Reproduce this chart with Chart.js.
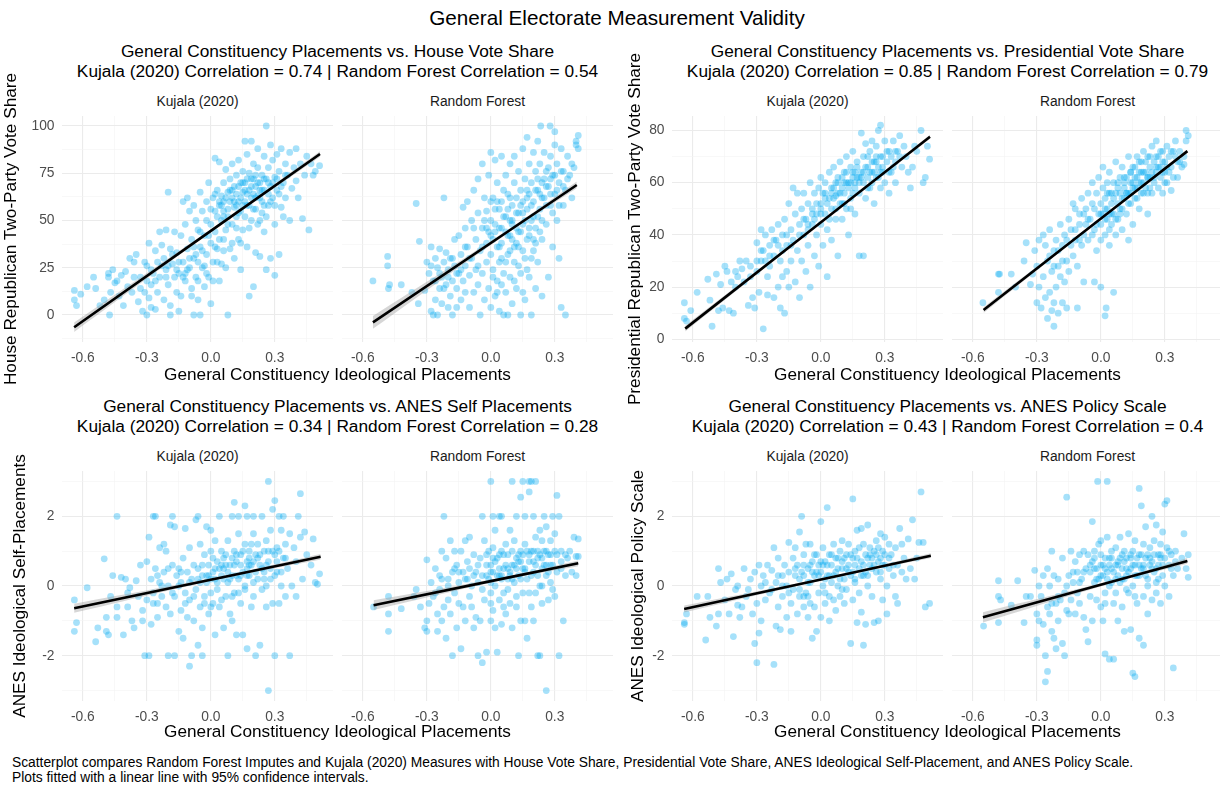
<!DOCTYPE html>
<html>
<head>
<meta charset="utf-8">
<script src="https://cdn.jsdelivr.net/npm/chart.js@4.4.1/dist/chart.umd.min.js"></script>
<style>
  html, body { margin: 0; padding: 0; background: #fff; overflow: hidden; }
  #page { position: relative; width: 1220px; height: 786px; overflow: hidden; background: #fff;
          font-family: "Liberation Sans", Arial, sans-serif; }
  #page canvas { position: absolute; }
  .txt { position: absolute; white-space: nowrap; line-height: 1; transform: translate(-50%, -50%); }
  .ytitle { transform: translate(-50%, -50%) rotate(-90deg); }
</style>
</head>
<body>
<div id="page"></div>
<script>
// ---- labels ----
const mainTitle = 'General Electorate Measurement Validity';
const facetLabels = ['Kujala (2020)', 'Random Forest'];
const groupTitles = [
  ['General Constituency Placements vs. House Vote Share', 'Kujala (2020) Correlation = 0.74 | Random Forest Correlation = 0.54'],
  ['General Constituency Placements vs. Presidential Vote Share', 'Kujala (2020) Correlation = 0.85 | Random Forest Correlation = 0.79'],
  ['General Constituency Placements vs. ANES Self Placements', 'Kujala (2020) Correlation = 0.34 | Random Forest Correlation = 0.28'],
  ['General Constituency Placements vs. ANES Policy Scale', 'Kujala (2020) Correlation = 0.43 | Random Forest Correlation = 0.4']
];
const yTitles = ['House Republican Two-Party Vote Share', 'Presidential Republican Two-Party Vote Share',
                 'ANES Ideological Self-Placements', 'ANES Ideological Policy Scale'];
const xTitle = 'General Constituency Ideological Placements';
const captionLines = [
  'Scatterplot compares Random Forest Imputes and Kujala (2020) Measures with House Vote Share, Presidential Vote Share, ANES Ideological Self-Placement, and ANES Policy Scale.',
  'Plots fitted with a linear line with 95% confidence intervals.'
];

// ---- ticks ----
const xMajor = [-0.6, -0.3, 0, 0.3];
const xTickLabels = ['-0.6', '-0.3', '0.0', '0.3'];
const xMinor = [-0.45, -0.15, 0.15, 0.45];
const houseMajor = [0, 25, 50, 75, 100];
const houseTickLabels = ['0', '25', '50', '75', '100'];
const houseMinor = [-12.5, 12.5, 37.5, 62.5, 87.5];
const presMajor = [0, 20, 40, 60, 80];
const presTickLabels = ['0', '20', '40', '60', '80'];
const presMinor = [10, 30, 50, 70];
const anesMajor = [-2, 0, 2];
const anesTickLabels = ['-2', '0', '2'];
const anesMinor = [-3, -1, 1, 3];

// ---- points [x, y] ----
const houseKujala = [[-0.64,13],[-0.64,8],[-0.63,5],[-0.61,11],[-0.58,15],[-0.55,20],[-0.54,14],[-0.52,5],[-0.5,8],[-0.48,20],[-0.48,22],[-0.475,0],[-0.47,12],[-0.46,24],[-0.45,17],[-0.44,18],[-0.43,10],[-0.42,21],[-0.41,5],[-0.4,23],[-0.39,15],[-0.38,30],[-0.37,12],[-0.36,28],[-0.35,32],[-0.34,7],[-0.33,20],[-0.32,2],[-0.31,28],[-0.31,12],[-0.3,0],[-0.3,26],[-0.29,38],[-0.29,9],[-0.28,16],[-0.28,4],[-0.27,22],[-0.26,34],[-0.26,3],[-0.25,28],[-0.25,12],[-0.24,44],[-0.24,20],[-0.23,37],[-0.22,30],[-0.22,8],[-0.21,24],[-0.21,45],[-0.2,16],[-0.2,65],[-0.19,35],[-0.19,5],[-0.18,27],[-0.19,0],[-0.17,20],[-0.17,44],[-0.16,12],[-0.16,33],[-0.15,22],[-0.15,2],[-0.14,42],[-0.14,10],[-0.13,28],[-0.13,60],[-0.12,18],[-0.12,48],[-0.11,35],[-0.11,62],[-0.1,25],[-0.08,0],[-0.1,55],[-0.09,40],[-0.09,14],[-0.08,58],[-0.08,30],[-0.07,20],[-0.07,50],[-0.06,8],[-0.06,45],[-0.05,36],[-0.05,65],[-0.05,0],[-0.04,25],[-0.04,55],[-0.03,15],[-0.03,42],[-0.02,60],[-0.02,32],[-0.01,70],[-0.01,20],[0,48],[0,38],[0,6],[0.01,62],[0.01,28],[0.02,55],[0.02,83],[0.02,44],[0.03,35],[0.03,66],[0.04,58],[0.04,18],[0.04,81],[0.05,50],[0.05,27],[0.05,63],[0.06,40],[0.06,70],[0.06,60],[0.07,45],[0.07,77],[0.07,25],[0.08,56],[0.08,65],[0.08,0],[0.09,35],[0.09,72],[0.09,60],[0.1,48],[0.1,80],[0.1,62],[0.11,57],[0.11,30],[0.11,68],[0.12,74],[0.12,52],[0.12,64],[0.13,40],[0.13,82],[0.13,60],[0.14,70],[0.14,55],[0.14,24],[0.15,65],[0.15,76],[0.15,45],[0.16,92],[0.16,60],[0.16,70],[0.17,58],[0.17,85],[0.17,36],[0.18,66],[0.18,75],[0.18,10],[0.19,62],[0.19,92],[0.19,50],[0.2,72],[0.2,15],[0.2,80],[0.21,68],[0.21,56],[0.21,33],[0.22,78],[0.22,63],[0.22,88],[0.23,70],[0.23,50],[0.23,31],[0.24,74],[0.24,60],[0.25,84],[0.25,66],[0.25,44],[0.26,72],[0.26,100],[0.26,24],[0.27,78],[0.27,58],[0.28,90],[0.28,68],[0.28,30],[0.29,62],[0.29,82],[0.3,73],[0.3,48],[0.3,21],[0.31,85],[0.31,66],[0.32,76],[0.32,32],[0.33,88],[0.33,57],[0.34,70],[0.35,80],[0.35,62],[0.36,74],[0.37,86],[0.37,50],[0.38,67],[0.39,78],[0.4,88],[0.4,71],[0.41,62],[0.42,80],[0.43,51],[0.44,74],[0.45,84],[0.46,45],[0.47,80],[0.48,74],[0.49,76],[0.51,79],
  [0.05,58],[0.08,52],[0.1,66],[0.12,58],[0.14,62],[0.16,66],[0.18,58],[0.2,64],[0.22,70],[0.24,66],[0.03,52],[0.06,55],[0.15,70],[0.19,72],[0.23,62],[0.27,70],[-0.02,50],[-0.05,44],[-0.1,30],[-0.15,28],[-0.2,26],[-0.12,22],[-0.07,32],[-0.03,26],
  [0,56],[0.02,64],[0.04,60],[0.06,52],[0.07,62],[0.09,66],[0.11,60],[0.13,68],[0.13,54],[0.15,58],[0.17,64],[0.17,72],[0.19,68],[0.21,62],[0.21,74],[0.23,66],[0.25,72],[0.25,58],[0.27,64],[0.29,70],[0.31,72],[0.33,68],[0.35,74],[0.12,46],[0.16,52],[0.2,56],[0.24,54],[0.28,60],[0.32,64],[0.08,48],[0.04,40],[0.02,36],[-0.01,42],[-0.04,34],[-0.06,28],[-0.08,36],[-0.11,24],[-0.13,20],[-0.16,24],[-0.18,32],[-0.21,20],[-0.23,26],[-0.26,18],[-0.28,24],[-0.3,18],[-0.33,14],[-0.36,20],[-0.02,22],[-0.06,18],[-0.09,10],[0.01,18],[0.03,28],[0.06,34],[0.1,38],[0.14,38],[0.18,46],[0.22,48],[0.26,52],[0.3,58],[0.34,52]];
const houseRF = [[-0.553,18],[-0.484,31],[-0.484,26],[-0.48,14],[-0.475,16],[-0.42,16],[-0.37,12],[-0.35,59],[-0.335,39],[-0.34,6],[-0.31,13],[-0.3,28],[-0.29,22],[-0.28,36],[-0.28,2],[-0.27,0],[-0.27,18],[-0.26,30],[-0.26,8],[-0.25,25],[-0.25,0],[-0.24,35],[-0.24,14],[-0.23,20],[-0.23,6],[-0.22,62],[-0.22,28],[-0.21,16],[-0.21,33],[-0.2,4],[-0.2,24],[-0.19,10],[-0.19,30],[-0.18,0],[-0.18,18],[-0.17,40],[-0.17,26],[-0.16,14],[-0.16,4],[-0.15,42],[-0.15,22],[-0.14,8],[-0.14,32],[-0.13,57],[-0.13,18],[-0.12,46],[-0.12,12],[-0.12,26],[-0.11,60],[-0.11,36],[-0.1,21],[-0.1,4],[-0.09,50],[-0.09,30],[-0.08,66],[-0.08,12],[-0.07,40],[-0.07,24],[-0.06,72],[-0.06,54],[-0.06,16],[-0.05,34],[-0.05,0],[-0.04,80],[-0.04,46],[-0.04,22],[-0.03,62],[-0.03,8],[-0.02,38],[-0.02,28],[-0.02,55],[-0.01,74],[-0.01,44],[-0.01,14],[0,86],[0,32],[0,50],[0,4],[0.01,62],[0.01,24],[0.01,40],[0.02,82],[0.02,10],[0.02,56],[0.03,36],[0.03,70],[0.03,18],[0.04,46],[0.04,2],[0.04,28],[0.05,84],[0.05,60],[0.05,38],[0.06,0],[0.06,52],[0.06,22],[0.07,74],[0.07,44],[0.07,12],[0.08,64],[0.08,32],[0.08,0],[0.09,80],[0.09,50],[0.09,20],[0.1,58],[0.1,40],[0.1,6],[0.11,70],[0.11,28],[0.11,84],[0.12,46],[0.12,62],[0.12,14],[0.13,54],[0.13,36],[0.13,76],[0.14,0],[0.14,66],[0.14,22],[0.15,48],[0.15,88],[0.15,60],[0.16,30],[0.16,72],[0.16,8],[0.17,56],[0.17,40],[0.17,94],[0.18,64],[0.18,20],[0.18,80],[0.19,0],[0.19,50],[0.19,70],[0.2,34],[0.2,86],[0.2,60],[0.21,14],[0.21,76],[0.21,46],[0.22,66],[0.22,92],[0.22,28],[0.23,56],[0.23,80],[0.234,100],[0.24,40],[0.24,70],[0.24,10],[0.25,62],[0.25,86],[0.278,100],[0.26,48],[0.26,76],[0.27,20],[0.27,68],[0.28,58],[0.28,84],[0.29,36],[0.29,74],[0.3,97],[0.3,64],[0.3,90],[0.31,50],[0.31,80],[0.32,30],[0.32,70],[0.33,4],[0.33,88],[0.34,58],[0.34,76],[0.35,0],[0.35,66],[0.36,84],[0.37,74],[0.38,62],[0.39,78],[0.4,90],[0.4,92],[0.41,95],[0.41,88],
  [0.02,48],[0.05,46],[0.08,56],[0.1,50],[0.12,38],[0.15,54],[0.17,66],[0.2,52],[0.22,72],[0.24,62],[0.26,68],[0.28,72],[0.03,60],[0.06,66],[0.14,44],[0.18,42],[0,42],[0.04,36],[-0.03,50],[0.09,42],
  [0,60],[0.02,44],[0.04,56],[0.05,30],[0.07,52],[0.08,42],[0.09,62],[0.1,48],[0.11,36],[0.12,54],[0.13,44],[0.14,58],[0.15,34],[0.16,50],[0.17,62],[0.18,46],[0.19,58],[0.2,40],[0.21,66],[0.22,52],[0.23,64],[0.24,50],[0.25,72],[0.26,58],[0.27,78],[0.28,64],[0.29,54],[0.3,74],[0.31,66],[0.32,58],[0.33,76],[0.34,68],[0.36,72],[0.38,80],[-0.02,46],[-0.04,36],[-0.06,26],[-0.08,46],[-0.1,30],[-0.12,36],[-0.14,24],[-0.16,22],[-0.18,30],[-0.2,20],[-0.22,14],[-0.24,22],[-0.26,18],[-0.28,26],[0.01,20],[0.03,12],[0.05,16],[0.07,28],[0.09,34],[0.11,18],[0.13,26],[0.15,12],[0.17,24],[0.19,30],[0.21,38],[0.23,44]];
const presKujala = [[-0.64,14],[-0.64,8],[-0.63,7],[-0.61,11],[-0.58,18],[-0.53,23],[-0.52,15],[-0.51,5],[-0.49,25],[-0.48,11],[-0.47,21],[-0.46,12],[-0.45,28],[-0.44,26],[-0.43,11],[-0.42,22],[-0.41,10],[-0.4,26],[-0.39,24],[-0.38,30],[-0.37,27],[-0.35,30],[-0.34,13],[-0.33,24],[-0.32,16],[-0.31,12],[-0.3,30],[-0.3,37],[-0.29,18],[-0.28,42],[-0.28,30],[-0.27,4],[-0.27,34],[-0.26,40],[-0.25,24],[-0.25,17],[-0.24,36],[-0.24,28],[-0.23,42],[-0.22,32],[-0.22,16],[-0.21,38],[-0.2,20],[-0.2,44],[-0.19,12],[-0.19,30],[-0.18,40],[-0.18,24],[-0.17,10],[-0.17,46],[-0.16,36],[-0.16,26],[-0.15,52],[-0.15,20],[-0.14,42],[-0.14,30],[-0.13,58],[-0.13,38],[-0.12,22],[-0.12,48],[-0.11,34],[-0.11,56],[-0.1,44],[-0.1,16],[-0.09,50],[-0.09,30],[-0.08,40],[-0.08,56],[-0.07,26],[-0.07,46],[-0.06,52],[-0.06,36],[-0.05,60],[-0.05,20],[-0.04,44],[-0.04,50],[-0.03,56],[-0.03,32],[-0.02,48],[-0.02,40],[-0.01,58],[-0.01,28],[0,52],[0,44],[0,62],[0.01,36],[0.01,56],[0.02,48],[0.02,60],[0.03,42],[0.03,24],[0.04,54],[0.04,64],[0.05,50],[0.05,38],[0.06,58],[0.06,66],[0.07,46],[0.07,55],[0.08,62],[0.08,32],[0.09,52],[0.09,68],[0.1,58],[0.1,46],[0.11,64],[0.11,56],[0.12,70],[0.12,50],[0.13,60],[0.13,40],[0.14,66],[0.14,54],[0.15,62],[0.15,72],[0.16,58],[0.16,48],[0.17,68],[0.17,62],[0.18,56],[0.18,32],[0.19,79],[0.19,64],[0.2,70],[0.2,60],[0.2,32],[0.21,75],[0.21,54],[0.22,66],[0.22,62],[0.23,72],[0.23,58],[0.24,76],[0.24,64],[0.25,68],[0.25,52],[0.26,74],[0.26,62],[0.27,80],[0.27,66],[0.28,58],[0.28,82],[0.29,70],[0.29,64],[0.3,76],[0.3,60],[0.31,68],[0.32,72],[0.32,56],[0.33,64],[0.34,76],[0.35,68],[0.35,60],[0.36,72],[0.37,78],[0.38,66],[0.39,74],[0.4,70],[0.41,64],[0.42,58],[0.43,66],[0.44,74],[0.45,72],[0.47,80],[0.48,60],[0.49,62],[0.5,74],[0.51,69],
  [0.02,54],[0.05,56],[0.08,56],[0.1,62],[0.12,60],[0.14,60],[0.16,64],[0.18,62],[0.2,64],[0.22,58],[0.24,68],[0.26,68],[0.28,64],[0.04,46],[0.07,60],[0.11,52],[0.15,56],[-0.03,46],[-0.06,44],[0,48],
  [-0.1,40],[-0.08,46],[-0.06,42],[-0.04,48],[-0.02,52],[0,50],[0.02,56],[0.03,52],[0.05,58],[0.06,54],[0.08,60],[0.09,56],[0.11,60],[0.12,64],[0.13,58],[0.15,64],[0.16,60],[0.17,66],[0.19,62],[0.21,66],[0.22,70],[0.23,64],[0.25,64],[0.26,70],[0.27,62],[0.29,66],[0.31,72],[0.33,70],[0.35,72],[0.37,70],[-0.14,36],[-0.16,40],[-0.18,34],[-0.2,36],[-0.22,38],[-0.24,32],[-0.26,30],[-0.28,34],[-0.3,26],[-0.33,28],[-0.36,22],[-0.4,20],[0.07,50],[0.1,52],[0.14,50],[0.18,60],[0.24,60],[0.28,70],[0.32,64],[0.34,66]];
const presRF = [[-0.553,14],[-0.48,25],[-0.475,25],[-0.48,18],[-0.42,25],[-0.4,20],[-0.36,30],[-0.35,37],[-0.33,21],[-0.32,25],[-0.31,34],[-0.3,28],[-0.3,14],[-0.29,38],[-0.29,20],[-0.28,12],[-0.27,24],[-0.27,40],[-0.26,36],[-0.26,16],[-0.25,30],[-0.25,8],[-0.24,18],[-0.24,42],[-0.23,26],[-0.23,11],[-0.22,5],[-0.22,34],[-0.22,14],[-0.21,38],[-0.21,20],[-0.2,28],[-0.2,10],[-0.19,44],[-0.19,24],[-0.18,14],[-0.18,36],[-0.17,40],[-0.17,22],[-0.16,30],[-0.16,12],[-0.15,46],[-0.15,26],[-0.14,42],[-0.13,32],[-0.13,52],[-0.12,50],[-0.12,38],[-0.11,28],[-0.11,12],[-0.1,48],[-0.1,44],[-0.09,54],[-0.09,36],[-0.08,40],[-0.08,22],[-0.07,50],[-0.07,44],[-0.06,56],[-0.06,38],[-0.05,46],[-0.03,22],[-0.04,52],[-0.04,60],[0,20],[-0.03,42],[-0.03,50],[-0.02,56],[-0.02,34],[-0.01,48],[-0.01,62],[0,44],[0,52],[0,38],[0.01,58],[0.01,48],[0.01,66],[0.02,40],[0.02,54],[0.025,12],[0.02,9],[0.03,60],[0.03,46],[0.03,50],[0.04,56],[0.04,36],[0.04,64],[0.05,52],[0.05,44],[0.06,18],[0.06,60],[0.06,48],[0.07,56],[0.07,40],[0.07,68],[0.08,52],[0.08,46],[0.09,62],[0.09,56],[0.1,50],[0.1,66],[0.1,42],[0.11,58],[0.11,54],[0.12,62],[0.12,48],[0.13,70],[0.13,56],[0.13,38],[0.14,60],[0.14,52],[0.15,66],[0.15,58],[0.15,44],[0.16,62],[0.16,54],[0.17,70],[0.17,58],[0.18,64],[0.18,50],[0.19,68],[0.19,60],[0.2,56],[0.2,72],[0.21,64],[0.21,58],[0.22,70],[0.22,48],[0.23,62],[0.23,66],[0.24,74],[0.24,56],[0.25,68],[0.25,60],[0.26,76],[0.26,64],[0.27,58],[0.27,70],[0.28,66],[0.28,62],[0.29,72],[0.29,56],[0.3,68],[0.3,64],[0.31,74],[0.31,60],[0.32,70],[0.33,66],[0.34,62],[0.34,72],[0.35,76],[0.36,68],[0.37,72],[0.38,66],[0.39,70],[0.4,76],[0.4,80],[0.41,78],[0.39,67],[0.33,57],[0.36,62],
  [0.02,50],[0.05,56],[0.08,58],[0.11,60],[0.14,64],[0.17,62],[0.2,64],[0.23,58],[0.26,66],[0.29,64],[0.04,48],[0.12,56],[0.16,58],[0.09,48],[0.19,56],[0.22,62],
  [0,48],[0.02,46],[0.03,56],[0.05,48],[0.06,54],[0.08,60],[0.09,50],[0.11,62],[0.12,56],[0.13,52],[0.14,64],[0.15,60],[0.16,66],[0.17,54],[0.18,60],[0.19,64],[0.2,60],[0.21,68],[0.22,62],[0.23,70],[0.24,64],[0.25,62],[0.26,70],[0.27,66],[0.28,72],[0.29,68],[0.3,60],[0.31,66],[0.32,64],[0.33,72],[0.35,70],[0.37,68],[-0.02,44],[-0.04,40],[-0.06,46],[-0.08,48],[-0.1,38],[-0.12,42],[-0.14,36],[-0.16,38],[-0.18,30],[-0.2,34],[-0.22,28],[-0.24,32],[0.04,42],[0.07,46],[0.1,54],[0.14,56],[0.18,68],[0.22,56]];
const selfKujala = [[-0.64,-0.4],[-0.64,-1.3],[-0.63,-1.05],[-0.58,-0.05],[-0.54,-1.6],[-0.53,-1.2],[-0.5,0.78],[-0.49,-0.9],[-0.49,-1.3],[-0.48,-1.4],[-0.47,-0.3],[-0.46,0.3],[-0.44,2],[-0.44,-0.6],[-0.44,-0.9],[-0.42,0.25],[-0.41,-1.4],[-0.4,0.2],[-0.39,-0.2],[-0.39,-0.6],[-0.38,-0.05],[-0.37,-1],[-0.36,-1.2],[-0.35,0.15],[-0.34,-0.3],[-0.33,0.6],[-0.32,-0.7],[-0.32,-1],[-0.31,-2],[-0.3,0.7],[-0.3,-0.4],[-0.29,-2],[-0.29,1.4],[-0.28,0.2],[-0.28,-1.1],[-0.27,2],[-0.27,-0.2],[-0.26,2],[-0.26,0.5],[-0.25,-0.5],[-0.25,-0.9],[-0.24,1.1],[-0.24,0.1],[-0.23,-0.3],[-0.22,1.2],[-0.22,0.4],[-0.21,-0.6],[-0.21,1],[-0.2,-2],[-0.2,0],[-0.19,1.75],[-0.19,-0.8],[-0.18,2],[-0.18,0.6],[-0.17,1.7],[-0.17,-0.3],[-0.17,-2],[-0.16,0.3],[-0.15,-1.3],[-0.15,0.5],[-0.14,-0.7],[-0.14,0.1],[-0.13,-1.5],[-0.13,0.8],[-0.12,1.65],[-0.12,-0.2],[-0.11,0.4],[-0.11,-0.9],[-0.1,1.1],[-0.1,-0.4],[-0.1,-2.3],[-0.09,0.2],[-0.09,-2],[-0.08,0.6],[-0.08,-1],[-0.07,1.9],[-0.07,-0.1],[-0.06,2],[-0.06,0.5],[-0.06,-1.7],[-0.05,-0.6],[-0.05,1.2],[-0.04,0.3],[-0.04,-2],[-0.04,-1.2],[-0.03,0.9],[-0.03,-0.3],[-0.02,1.7],[-0.02,0.1],[-0.01,-0.8],[-0.01,0.6],[0,1.6],[0,-0.2],[0,1],[0.01,0.4],[0.01,-0.5],[0.02,-1.4],[0.02,0.2],[0.02,1.3],[0.03,-0.1],[0.03,0.7],[0.04,2],[0.04,-0.6],[0.05,0.3],[0.05,1],[0.06,-1.2],[0.06,0.5],[0.07,-0.3],[0.07,0.9],[0.08,1.3],[0.08,0.1],[0.08,-2],[0.09,0.6],[0.09,-0.8],[0.1,2],[0.1,0.3],[0.1,-1],[0.11,1],[0.11,-0.2],[0.11,2.4],[0.12,0.7],[0.12,-1.4],[0.13,0.2],[0.13,1.5],[0.13,2],[0.14,-0.5],[0.14,0.9],[0.15,0.4],[0.15,-1.4],[0.16,1.2],[0.16,-0.1],[0.16,2.3],[0.17,0.7],[0.17,-1.8],[0.17,2],[0.18,0.3],[0.18,1],[0.19,-0.6],[0.19,0.6],[0.2,2],[0.2,1.5],[0.2,-0.3],[0.21,0.9],[0.21,-2],[0.22,0.2],[0.22,1.2],[0.23,-1.7],[0.23,0.6],[0.24,2],[0.24,-0.1],[0.25,1],[0.25,0.4],[0.26,-0.6],[0.26,1.3],[0.27,3],[0.27,-3],[0.27,0.7],[0.28,0.2],[0.28,1.6],[0.29,2.2],[0.29,-0.5],[0.3,2.45],[0.3,0.9],[0.3,-2],[0.31,0.4],[0.31,1.1],[0.32,2],[0.32,-0.5],[0.33,1.6],[0.33,0],[0.34,0.8],[0.34,2],[0.35,-0.3],[0.35,1.2],[0.36,0.5],[0.37,1.5],[0.37,-2],[0.38,0],[0.39,1.1],[0.4,-0.3],[0.4,0.7],[0.41,2],[0.42,2.65],[0.42,1.4],[0.43,0.2],[0.44,1.55],[0.45,0.9],[0.47,0.6],[0.48,1.35],[0.49,0.1],[0.5,0.05],[0.51,0.35],
  [0.02,0.5],[0.05,0.6],[0.08,0.4],[0.11,0.6],[0.14,0.3],[0.17,0.5],[0.2,0.7],[0.23,0.9],[0.26,0.6],[0.29,1],[-0.02,0.3],[-0.05,0.1],[0,0.2],[0.06,0.8],[0.12,0.9],[0.18,0.8],
  [-0.1,0.1],[-0.08,-0.3],[-0.06,0.2],[-0.04,0.6],[-0.03,-0.5],[-0.01,0.3],[0.01,0.8],[0.03,0.1],[0.04,0.5],[0.06,0.2],[0.07,0.6],[0.09,0.2],[0.1,0.8],[0.12,0.3],[0.13,-0.2],[0.14,0.6],[0.15,1],[0.17,0.3],[0.18,0.6],[0.19,1.2],[0.21,0.4],[0.22,0.8],[0.24,0.5],[0.25,0.2],[0.27,1],[0.28,0.5],[0.3,0.3],[0.31,0.7],[0.33,0.4],[0.35,0.8],[-0.15,0],[-0.18,-0.2],[-0.2,0.5],[-0.23,0],[-0.25,0.3],[-0.27,-0.5],[-0.12,-0.5],[-0.14,0.4],[0,-0.6],[0.05,-0.4],[0.1,-0.3],[0.16,0],[0.2,0.1],[0.26,0],[0.32,1]];
const selfRF = [[-0.55,-0.6],[-0.48,-0.3],[-0.48,-0.8],[-0.48,-1.3],[-0.42,-0.65],[-0.36,-0.3],[-0.35,-0.1],[-0.33,-0.6],[-0.3,0.75],[-0.3,-1],[-0.3,-1.3],[-0.31,-1.2],[-0.29,-0.5],[-0.28,0.1],[-0.27,-0.3],[-0.26,0.5],[-0.25,-1.3],[-0.25,-0.8],[-0.24,0.3],[-0.24,-0.1],[-0.23,1],[-0.23,-1],[-0.22,-0.6],[-0.22,2],[-0.21,0.8],[-0.21,-1.5],[-0.2,-0.4],[-0.2,0.2],[-0.19,-0.8],[-0.19,1.3],[-0.18,-2],[-0.18,0.4],[-0.17,-0.2],[-0.17,1],[-0.16,-1.2],[-0.16,0.6],[-0.15,-0.5],[-0.15,0.1],[-0.14,1],[-0.14,-1.8],[-0.13,0.4],[-0.13,-0.6],[-0.12,1.3],[-0.12,-1],[-0.11,0.2],[-0.11,0.7],[-0.1,-0.3],[-0.1,1.4],[-0.09,0],[-0.09,-0.6],[-0.08,0.9],[-0.08,-1.2],[-0.07,0.4],[-0.07,-0.9],[-0.06,0.1],[-0.06,-2],[-0.05,0.8],[-0.05,-1],[-0.04,2],[-0.04,0.3],[-0.04,-2.2],[-0.03,1.3],[-0.03,-0.4],[-0.02,0.6],[-0.02,-1.9],[-0.01,0.2],[-0.01,1],[0,3],[0,-0.2],[0,0.6],[0,-1],[0.01,2],[0.01,0.4],[0.01,-0.7],[0.02,1.6],[0.02,0],[0.02,-1.2],[0.03,0.8],[0.03,-1.9],[0.04,2],[0.04,0.3],[0.04,-0.4],[0.05,2],[0.05,1],[0.05,-1.1],[0.06,0.5],[0.06,-0.2],[0.07,1.2],[0.07,-0.8],[0.08,0.2],[0.08,0.9],[0.09,-0.5],[0.09,1.6],[0.1,3],[0.1,0.6],[0.1,-1.2],[0.11,0.1],[0.11,1.3],[0.12,-0.6],[0.12,2],[0.12,0.8],[0.13,-2],[0.13,0.3],[0.14,1],[0.14,-1],[0.14,2.55],[0.15,0.5],[0.15,-0.2],[0.15,3],[0.16,2],[0.16,1.2],[0.16,-1],[0.17,0.2],[0.17,-1.5],[0.18,3],[0.18,0.7],[0.18,2.7],[0.19,1],[0.19,-0.6],[0.19,3],[0.2,0.4],[0.2,2],[0.2,-1],[0.21,1.4],[0.21,-0.2],[0.21,3],[0.22,0.8],[0.22,-2],[0.23,1.6],[0.23,0],[0.23,-2],[0.24,1.3],[0.24,0.5],[0.24,-0.5],[0.25,2],[0.25,1],[0.26,-3],[0.26,0.3],[0.26,1.7],[0.27,0.9],[0.27,-0.4],[0.28,1.3],[0.28,0.1],[0.29,2],[0.29,0.6],[0.3,1.5],[0.3,-0.3],[0.31,2.6],[0.31,0.9],[0.32,2],[0.32,-2],[0.33,0.5],[0.33,1],[0.34,-1],[0.35,0.3],[0.36,0.8],[0.37,1],[0.38,0.4],[0.39,1.4],[0.4,0.85],[0.4,0.3],[0.41,1.35],[0.41,0.85],
  [0,0.4],[0.02,0.7],[0.04,0.5],[0.06,0.9],[0.08,0.5],[0.1,0.2],[0.12,0.5],[0.14,0.7],[0.16,0.4],[0.18,0.9],[0.2,0.7],[0.22,1],[0.24,0.8],[0.26,0.6],[0.28,0.9],[-0.02,0.9],[0.01,1.1],[0.05,0.2],[0.09,0.3],[0.13,0.9],
  [-0.1,0.5],[-0.08,0.3],[-0.06,0.6],[-0.04,-0.1],[-0.02,0.3],[0,0.1],[0.01,0.8],[0.03,0.3],[0.04,0.9],[0.05,0.3],[0.07,0.6],[0.08,-0.1],[0.09,0.4],[0.1,1],[0.11,0.6],[0.13,0.7],[0.14,0.2],[0.15,0.9],[0.16,0.5],[0.17,1],[0.19,0.3],[0.2,1],[0.21,0.6],[0.22,0.3],[0.23,0.9],[0.25,0.6],[0.26,1],[0.27,0.4],[0.28,0.6],[0.3,1],[0.31,0.4],[0.33,0.7],[0.35,0.9],[-0.12,0.2],[-0.15,0.4],[-0.17,0.5],[-0.2,0],[-0.23,0.2],[-0.26,-0.2],[0,-0.5],[0.06,-0.6],[0.12,-0.3],[0.18,-0.2],[0.24,0],[0.29,-0.1]];
const policyKujala = [[-0.64,-1.05],[-0.64,-1.1],[-0.63,-0.8],[-0.58,-0.3],[-0.54,-1.55],[-0.53,-0.3],[-0.52,-0.9],[-0.49,-1.15],[-0.48,0.5],[-0.48,-0.8],[-0.47,0.1],[-0.45,-0.4],[-0.44,0.2],[-0.43,-0.8],[-0.42,0.35],[-0.41,-1.45],[-0.4,-0.1],[-0.39,-0.55],[-0.39,0],[-0.38,-0.9],[-0.37,-0.6],[-0.36,0.5],[-0.35,-0.3],[-0.34,-0.1],[-0.33,0.2],[-0.32,-0.8],[-0.31,0.4],[-0.31,-1.65],[-0.3,-0.5],[-0.3,-2.2],[-0.29,-1.35],[-0.29,0.6],[-0.28,0],[-0.28,-1],[-0.27,0.3],[-0.26,-0.4],[-0.25,0.6],[-0.24,-0.2],[-0.23,0.45],[-0.22,-2.25],[-0.22,1.1],[-0.21,-1.15],[-0.21,0.1],[-0.2,-0.6],[-0.2,0.8],[-0.19,-1.25],[-0.18,0.3],[-0.18,-0.3],[-0.17,0.6],[-0.16,-0.9],[-0.16,0],[-0.15,1.25],[-0.15,0.4],[-0.14,-0.5],[-0.14,-1.3],[-0.13,0.8],[-0.13,-0.1],[-0.12,1.1],[-0.12,0.3],[-0.11,-0.8],[-0.11,0.6],[-0.1,1.55],[-0.1,-0.3],[-0.09,2],[-0.09,0.4],[-0.08,-0.6],[-0.08,0.9],[-0.07,1.2],[-0.07,-0.2],[-0.06,0.5],[-0.06,-0.9],[-0.05,1.2],[-0.05,0.1],[-0.04,-1.5],[-0.04,0.7],[-0.03,0.3],[-0.03,-0.6],[-0.02,-1.3],[-0.02,0.9],[-0.01,0.6],[-0.01,-0.2],[0,1.85],[0,0.4],[0,-0.9],[0.01,1.1],[0.01,0],[0.02,0.7],[0.02,-0.5],[0.03,2.25],[0.03,0.3],[0.04,-1],[0.04,0.9],[0.05,0.1],[0.05,0.6],[0.06,-0.4],[0.06,1.2],[0.07,0.4],[0.07,-0.7],[0.08,0.8],[0.08,0],[0.09,1],[0.09,-0.3],[0.1,0.5],[0.1,1.3],[0.11,-0.5],[0.11,0.2],[0.12,0.9],[0.12,-0.1],[0.13,0.6],[0.13,1.2],[0.14,-1.65],[0.14,0.3],[0.15,2.5],[0.15,0.8],[0.15,-0.4],[0.16,1],[0.16,0.1],[0.17,1.6],[0.17,-1.05],[0.18,0.5],[0.18,-0.2],[0.19,1.65],[0.19,0.7],[0.19,-0.75],[0.2,0.3],[0.2,1.2],[0.2,-1.7],[0.21,0.9],[0.21,-1.1],[0.22,0],[0.22,1.75],[0.23,0.6],[0.23,1.1],[0.24,-0.3],[0.24,0.8],[0.25,1],[0.25,-1.05],[0.26,0.4],[0.26,1.3],[0.27,-1],[0.27,0.7],[0.28,1.5],[0.28,0.2],[0.29,1],[0.29,-0.4],[0.3,0.6],[0.3,1.4],[0.31,0],[0.31,-0.8],[0.32,1.2],[0.32,0.5],[0.33,0.9],[0.34,0.3],[0.35,1.1],[0.35,-0.3],[0.36,0.6],[0.36,-0.5],[0.37,1.65],[0.38,0.4],[0.38,1.2],[0.39,0.8],[0.4,0.2],[0.41,1.35],[0.42,0.5],[0.43,1.9],[0.44,0.2],[0.45,0.8],[0.46,1.25],[0.47,2.7],[0.48,1.25],[0.49,-0.6],[0.51,-0.5],
  [-0.08,0.3],[-0.05,0.6],[-0.02,0.4],[0.01,0.6],[0.04,0.3],[0.07,0.8],[0.1,0.7],[0.13,0.4],[0.16,0.6],[0.19,0.3],[0.22,0.8],[0.25,0.6],[0.28,0.8],[-0.1,-0.1],[-0.06,-0.3],[0.02,-0.2],
  [-0.12,0.5],[-0.1,0.2],[-0.08,0.6],[-0.06,0.1],[-0.04,0.4],[-0.03,0.9],[-0.01,0.3],[0,0.7],[0.02,0.2],[0.03,0.6],[0.05,0.9],[0.06,0.3],[0.08,0.5],[0.09,0.2],[0.11,0.8],[0.12,0.5],[0.14,0.9],[0.15,0.4],[0.17,0.8],[0.18,1.1],[0.2,0.6],[0.21,0.4],[0.23,0.9],[0.24,0.5],[0.26,0.9],[0.27,1.1],[0.29,0.6],[0.3,0.9],[0.32,0.8],[0.34,0.6],[-0.15,-0.2],[-0.18,0],[-0.2,0.3],[-0.23,-0.1],[-0.26,0.1],[-0.08,-0.3],[-0.05,-0.5],[0.04,-0.3],[0.1,-0.1],[0.16,0.2],[0.22,0.3],[0.28,0.4]];
const policyRF = [[-0.55,-1.15],[-0.48,-1.05],[-0.48,0.15],[-0.48,-0.3],[-0.47,-0.4],[-0.42,-0.55],[-0.39,0.15],[-0.36,-1.05],[-0.35,-0.3],[-0.33,-0.3],[-0.31,0.45],[-0.3,-1.55],[-0.3,-1.7],[-0.3,-0.8],[-0.29,0],[-0.29,-1],[-0.28,-0.3],[-0.27,0.3],[-0.27,-1.1],[-0.26,-2],[-0.26,-2.75],[-0.25,0.5],[-0.25,-0.6],[-0.25,-2.45],[-0.24,-0.8],[-0.24,0],[-0.23,1],[-0.23,-1.3],[-0.22,-1.5],[-0.22,0.3],[-0.21,-0.5],[-0.21,-1.8],[-0.2,0.2],[-0.2,-1],[-0.19,-0.4],[-0.18,-1.65],[-0.18,0.8],[-0.17,-2],[-0.17,-0.2],[-0.16,2.55],[-0.16,-0.7],[-0.15,0.3],[-0.15,-0.8],[-0.14,1],[-0.14,-0.4],[-0.13,0.1],[-0.12,0.7],[-0.12,-0.8],[-0.11,-0.2],[-0.11,0.4],[-0.1,0.9],[-0.1,-0.5],[-0.09,0.2],[-0.08,1],[-0.08,-0.9],[-0.07,0.5],[-0.07,-1.25],[-0.06,0.9],[-0.06,-1.6],[-0.05,0.4],[-0.05,-0.3],[-0.04,1.85],[-0.04,0.7],[-0.04,-1],[-0.03,0.1],[-0.03,1],[-0.02,0.5],[-0.02,-0.4],[-0.01,1.2],[-0.01,0.2],[0,0.6],[0,-0.6],[0,1.3],[-0.015,3],[0.01,0.3],[0.01,-1],[0.02,0.8],[0.02,-0.2],[0.02,-1.95],[0.03,1.4],[0.03,3],[0.03,0.4],[0.04,-2.1],[0.04,0],[0.05,1],[0.05,0.5],[0.06,-0.5],[0.06,-2.1],[0.07,1.1],[0.07,0.2],[0.08,-1],[0.08,0.7],[0.09,1.4],[0.09,0.1],[0.1,-0.6],[0.1,0.5],[0.11,1],[0.11,-1.3],[0.12,0.3],[0.12,0.8],[0.13,-0.2],[0.13,1.5],[0.14,0.5],[0.14,-1.25],[0.15,1],[0.15,0],[0.15,-2.5],[0.16,0.6],[0.16,-2.6],[0.16,1.3],[0.17,-0.5],[0.17,0.3],[0.18,2.8],[0.18,0.9],[0.18,-1.5],[0.19,0.5],[0.19,2.3],[0.2,1.2],[0.2,-0.3],[0.2,-1.7],[0.21,0.8],[0.21,1.7],[0.22,0.2],[0.22,-0.8],[0.23,1.1],[0.23,0.6],[0.24,2],[0.24,-0.4],[0.25,1.3],[0.25,0.4],[0.26,1.75],[0.26,-0.2],[0.27,0.9],[0.27,0.2],[0.28,1.2],[0.28,-0.5],[0.29,1.55],[0.29,0.6],[0.3,0],[0.3,2.35],[0.31,2.45],[0.31,1.1],[0.32,0.6],[0.32,-0.3],[0.33,0.9],[0.34,-2.35],[0.34,0.3],[0.35,1],[0.36,0.5],[0.38,0.8],[0.39,1.5],[0.4,0.5],[0.41,0.9],[0.41,0.25],
  [0,0.3],[0.02,0.5],[0.04,0.8],[0.06,0.4],[0.08,0.6],[0.1,0.9],[0.12,0.5],[0.14,0.8],[0.16,0.3],[0.18,0.6],[0.2,0.5],[0.22,0.9],[0.24,0.7],[0.26,0.5],[0.28,0.8],[-0.03,0.5],[0.05,0.1],[0.11,0.2],
  [-0.05,0.6],[-0.03,0.8],[-0.02,0.2],[0,0.9],[0.01,0.6],[0.03,0.2],[0.04,0.6],[0.05,0.8],[0.07,0.6],[0.08,0.3],[0.09,0.8],[0.1,0.2],[0.11,0.7],[0.13,0.4],[0.14,0.9],[0.15,0.6],[0.17,0.8],[0.18,0.3],[0.19,0.9],[0.2,0.6],[0.21,0.3],[0.23,0.8],[0.24,0.5],[0.25,0.9],[0.27,0.6],[0.28,0.9],[0.29,0.3],[0.3,0.8],[0.32,1],[0.33,0.5],[0.35,0.7],[-0.08,0.4],[-0.1,0.1],[-0.13,0.4],[-0.16,0],[-0.2,-0.3],[-0.23,-0.5],[0.02,-0.5],[0.07,-0.2],[0.12,-0.1],[0.16,-0.3],[0.22,0],[0.26,0.1]];

// ---- fitted lines: [x, fitted y, 95% half-width] ----
const houseKujalaFit = [[-0.641,-6.5,2.5],[0.05,48.5,0.8],[0.512,85.2,1.5]];
const houseRFFit = [[-0.553,-3.9,3.4],[0.08,44.2,0.9],[0.403,68.8,1.8]];
const presKujalaFit = [[-0.636,4.1,1.1],[0.05,48.0,0.35],[0.512,77.6,0.8]];
const presRFFit = [[-0.55,11.2,1.1],[0.1,52.6,0.3],[0.406,72.1,0.6]];
const selfKujalaFit = [[-0.641,-0.64,0.13],[0.05,0.245,0.04],[0.515,0.84,0.08]];
const selfRFFit = [[-0.55,-0.55,0.14],[0.08,0.24,0.04],[0.41,0.65,0.08]];
const policyKujalaFit = [[-0.641,-0.66,0.1],[0.05,0.25,0.03],[0.516,0.87,0.07]];
const policyRFFit = [[-0.553,-0.9,0.15],[0.08,0.17,0.04],[0.406,0.72,0.08]];

// ---- layout ----
const FONT = '"Liberation Sans", Arial, sans-serif';
const TICK_SIZE = 13.8;
const xRange = [-0.698, 0.573];
const yAxes = {
  house: { min: -14.3, max: 105.3, major: houseMajor, labels: houseTickLabels, minor: houseMinor },
  pres:  { min: -1.03, max: 85.55, major: presMajor, labels: presTickLabels, minor: presMinor },
  anes:  { min: -3.3, max: 3.3, major: anesMajor, labels: anesTickLabels, minor: anesMinor }
};
const Y_AXIS_W = 50, X_AXIS_H = 30;

const panels = [
  { pts: houseKujala, fit: houseKujalaFit, axis: 'house', left: 62, top: 116, w: 271, h: 226, first: true },
  { pts: houseRF, fit: houseRFFit, axis: 'house', left: 342, top: 116, w: 271, h: 226, first: false },
  { pts: presKujala, fit: presKujalaFit, axis: 'pres', left: 672, top: 116, w: 271, h: 226, first: true },
  { pts: presRF, fit: presRFFit, axis: 'pres', left: 952, top: 116, w: 271, h: 226, first: false },
  { pts: selfKujala, fit: selfKujalaFit, axis: 'anes', left: 62, top: 471, w: 271, h: 230, first: true },
  { pts: selfRF, fit: selfRFFit, axis: 'anes', left: 342, top: 471, w: 271, h: 230, first: false },
  { pts: policyKujala, fit: policyKujalaFit, axis: 'anes', left: 672, top: 471, w: 271, h: 230, first: true },
  { pts: policyRF, fit: policyRFFit, axis: 'anes', left: 952, top: 471, w: 271, h: 230, first: false }
];

const page = document.getElementById('page');

function addText(str, x, y, size, color, cls) {
  const d = document.createElement('div');
  d.className = 'txt' + (cls ? ' ' + cls : '');
  d.textContent = str;
  d.style.left = x + 'px';
  d.style.top = y + 'px';
  d.style.fontSize = size + 'px';
  d.style.color = color;
  page.appendChild(d);
  return d;
}

function tickScale(major, labels, minor, min, max, showLabels, isX) {
  const all = major.concat(minor).sort((a, b) => a - b);
  const s = {
    type: 'linear', min: min, max: max,
    afterBuildTicks: sc => { sc.ticks = all.map(v => ({ value: v })); },
    ticks: {
      display: showLabels, autoSkip: false, maxRotation: 0, padding: isX ? 8 : 7.5,
      color: '#4d4d4d', font: { family: FONT, size: TICK_SIZE },
      callback: v => { const i = major.indexOf(v); return i >= 0 ? labels[i] : ''; }
    },
    grid: {
      drawTicks: false,
      color: c => major.indexOf(c.tick.value) >= 0 ? '#ebebeb' : '#f4f4f4',
      lineWidth: c => major.indexOf(c.tick.value) >= 0 ? 1.1 : 0.6
    },
    border: { display: false }
  };
  // fixed axis sizes, and no extra padding for label overhang
  s.afterFit = sc => {
    if (isX) sc.height = X_AXIS_H; else sc.width = showLabels ? Y_AXIS_W : 0;
    sc.paddingTop = 0; sc.paddingBottom = 0; sc.paddingLeft = 0; sc.paddingRight = 0;
  };
  return s;
}

panels.forEach(p => {
  const ax = yAxes[p.axis];
  const yw = p.first ? Y_AXIS_W : 0;
  const cv = document.createElement('canvas');
  cv.width = p.w + yw;
  cv.height = p.h + X_AXIS_H;
  cv.style.left = (p.left - yw) + 'px';
  cv.style.top = p.top + 'px';
  cv.style.width = cv.width + 'px';
  cv.style.height = cv.height + 'px';
  page.appendChild(cv);

  new Chart(cv.getContext('2d'), {
    type: 'scatter',
    data: {
      datasets: [
        { type: 'scatter', data: p.pts.map(d => ({ x: d[0], y: d[1] })), order: 3,
          pointRadius: 3.4, pointBorderWidth: 0, pointBackgroundColor: 'rgba(0,170,240,0.35)' },
        { type: 'line', data: p.fit.map(f => ({ x: f[0], y: f[1] - f[2] })), order: 2,
          borderWidth: 0, borderColor: 'rgba(0,0,0,0)', pointRadius: 0, tension: 0.4, fill: false },
        { type: 'line', data: p.fit.map(f => ({ x: f[0], y: f[1] + f[2] })), order: 2,
          borderWidth: 0, borderColor: 'rgba(0,0,0,0)', pointRadius: 0, tension: 0.4,
          fill: '-1', backgroundColor: 'rgba(153,153,153,0.4)' },
        { type: 'line', data: p.fit.map(f => ({ x: f[0], y: f[1] })), order: 1,
          borderColor: '#000', borderWidth: 2.6, pointRadius: 0, tension: 0, fill: false }
      ]
    },
    options: {
      responsive: false, animation: false, devicePixelRatio: 1,
      layout: { padding: 0, autoPadding: false },
      plugins: { legend: { display: false }, tooltip: { enabled: false } },
      events: [],
      scales: {
        x: tickScale(xMajor, xTickLabels, xMinor, xRange[0], xRange[1], true, true),
        y: tickScale(ax.major, ax.labels, ax.minor, ax.min, ax.max, p.first, false)
      }
    }
  });
});

// ---- text ----
addText(mainTitle, 617, 18, 20.7, '#000');
const groupCenters = [[337.5, 116], [947.5, 116], [337.5, 471], [947.5, 471]];
groupTitles.forEach((t, i) => {
  const [cx, top] = groupCenters[i];
  addText(t[0], cx, top - 64, 17.3, '#000');
  addText(t[1], cx, top - 44, 17.3, '#000');
  addText(facetLabels[0], cx - 140, top - 14, 13.8, '#1a1a1a');
  addText(facetLabels[1], cx + 140, top - 14, 13.8, '#1a1a1a');
  addText(xTitle, cx, top + (i < 2 ? 259 : 261), 17.2, '#000');
});
const yTitlePos = [[11, 229], [635, 229], [20, 586], [638, 586]];
yTitles.forEach((t, i) => addText(t, yTitlePos[i][0], yTitlePos[i][1], 17.2, '#000', 'ytitle'));
captionLines.forEach((t, i) => {
  const d = addText(t, 12, 763 + i * 15, 13.8, '#000');
  d.style.transform = 'translate(0, -50%)';
});
</script>
</body>
</html>
